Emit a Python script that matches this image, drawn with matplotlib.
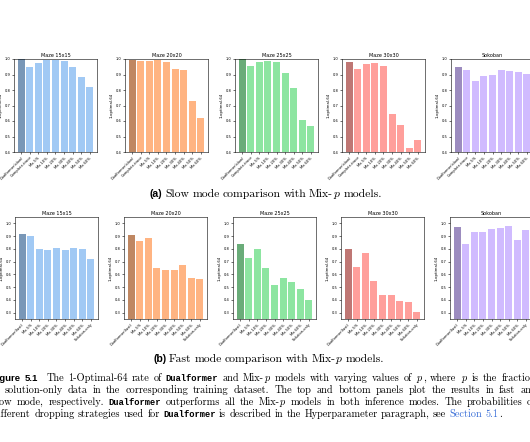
import numpy as np
import matplotlib
matplotlib.use("Agg")
from matplotlib import pyplot as plt

plt.rcParams['mathtext.fontset'] = 'cm'

####################################### data
titles = ['Maze 15x15', 'Maze 20x20', 'Maze 25x25', 'Maze 30x30', 'Sokoban']
mix_labels = ['Mix-5%', 'Mix-10%', 'Mix-20%', 'Mix-30%', 'Mix-40%', 'Mix-50%', 'Mix-60%']
slow_labels = ['Dualformer(slow)', 'Complete-trace'] + mix_labels
fast_labels = ['Dualformer(fast)'] + mix_labels + ['Solution-only']

slow_vals = [
    [1.00, 0.95, 0.976, 0.994, 0.994, 0.987, 0.946, 0.883, 0.819],
    [0.994, 0.987, 0.987, 0.994, 0.983, 0.937, 0.927, 0.728, 0.622],
    [1.00, 0.955, 0.98, 0.99, 0.98, 0.91, 0.81, 0.609, 0.568],
    [0.978, 0.937, 0.965, 0.976, 0.952, 0.643, 0.577, 0.428, 0.475],
    [0.95, 0.93, 0.857, 0.89, 0.894, 0.928, 0.924, 0.913, 0.905],
]
fast_vals = [
    [0.918, 0.90, 0.801, 0.79, 0.809, 0.79, 0.809, 0.801, 0.723],
    [0.908, 0.861, 0.887, 0.652, 0.631, 0.631, 0.67, 0.574, 0.561],
    [0.84, 0.73, 0.801, 0.652, 0.514, 0.574, 0.543, 0.483, 0.402],
    [0.801, 0.66, 0.77, 0.548, 0.436, 0.436, 0.391, 0.383, 0.305],
    [0.97, 0.84, 0.934, 0.934, 0.957, 0.965, 0.978, 0.866, 0.95],
]
colors = ['#a1c9f4', '#ffb482', '#8de5a1', '#ff9f9b', '#d0bbff']

####################################### layout (pixels)
W, H = 530, 442
fig = plt.figure(figsize=(W / 100, H / 100), dpi=100)
top_lefts = [14, 125, 235, 342, 451]
bot_lefts = [15, 124, 233, 341, 450]
pw = 83


def px_axes(left, top, w, h):
    return fig.add_axes([left / W, 1 - (top + h) / H, w / W, h / H])


def panel(ax, vals, labels, color, title, ylim, yticks):
    x = np.arange(len(vals))
    base = np.array(matplotlib.colors.to_rgb(color))
    cols = [tuple(base * 0.75)] + [color] * (len(vals) - 1)
    ax.bar(x, vals, color=cols, width=0.82)
    ax.set_ylim(*ylim)
    ax.set_yticks(yticks)
    ax.set_yticklabels(['%.1f' % v for v in yticks])
    ax.set_xticks(x)
    ax.set_xticklabels(labels, rotation=45, ha='right', rotation_mode='anchor')
    ax.tick_params(labelsize=2.6, length=1.5, width=0.4, pad=1)
    ax.set_title(title, fontsize=3.5, pad=1.5)
    ax.set_ylabel('1-optimal-64', fontsize=2.8, labelpad=1.5)
    for s in ax.spines.values():
        s.set_linewidth(0.4)


for i in range(5):
    ax = px_axes(top_lefts[i], 59, pw, 93)
    panel(ax, slow_vals[i], slow_labels, colors[i], titles[i], (0.4, 1.0),
          np.arange(0.4, 1.01, 0.1))
    ax = px_axes(bot_lefts[i], 217, pw, 102)
    panel(ax, fast_vals[i], fast_labels, colors[i], titles[i], (0.25, 1.05),
          np.arange(0.3, 1.01, 0.1))

####################################### captions
renderer = fig.canvas.get_renderer()
fs = 7.4
serif = dict(family='cmr10', size=fs)
bsans = dict(family='Liberation Sans', weight='bold', size=fs * 0.92)
tt = dict(family='Liberation Mono', weight='bold', size=6.3)
link = dict(family='cmr10', size=fs, color='#3a6fd8')
sub_serif = dict(family='cmr10', size=8.4)
sub_bold = dict(family='Liberation Sans', weight='bold', size=7.6)


def ink(s, style):
    t = fig.text(0, 0, s, **style)
    w = t.get_window_extent(renderer).width
    t.remove()
    return w


def adv(s, style):
    # advance width, side bearings included
    return ink('|' + s + '|', style) - ink('||', style)


def draw_line(x, y, segs, right=None):
    toks = []
    for s, style, gap in segs:
        for j, wd in enumerate(s.split(' ')):
            toks.append((wd, style, gap if j == 0 else 1))
    sp = adv(' ', segs[0][1]) if segs[0][1] is not bsans else adv(' ', serif)
    if right is not None:
        nat = sum(adv(wd, st) for wd, st, g in toks)
        sp = max(sp, (right - x - nat) / sum(g for wd, st, g in toks))
    for wd, style, gap in toks:
        x += gap * sp
        fig.text(x / W, 1 - y / H, wd, ha='left', va='baseline', **style)
        x += adv(wd, style)
    return x


P = '$p$'
draw_line(150, 197, [('(a)', sub_bold, 0), ('Slow mode comparison with Mix-', sub_serif, 1),
                     (P, sub_serif, 0), ('models.', sub_serif, 1)])
draw_line(153, 362, [('(b)', sub_bold, 0), ('Fast mode comparison with Mix-', sub_serif, 1),
                     (P, sub_serif, 0), ('models.', sub_serif, 1)])

space = adv(' ', serif)
lines = [
    (0, 'Fi', bsans, 536, [('Figure 5.1', bsans, 0), ('The 1-Optimal-64 rate of', serif, 2),
                           ('Dualformer', tt, 1), ('and Mix-', serif, 1), (P, serif, 0),
                           ('models with varying values of', serif, 1), (P, serif, 1),
                           (',', serif, 0), ('where', serif, 1), (P, serif, 1),
                           ('is the fraction', serif, 1)]),
    (2.7, 'of', serif, 537, [('of solution-only data in the corresponding training dataset. '
                              'The top and bottom panels plot the results in fast and', serif, 0)]),
    (0, 'sl', serif, 535, [('slow mode, respectively.', serif, 0), ('Dualformer', tt, 1),
                           ('outperforms all the Mix-', serif, 1), (P, serif, 0),
                           ('models in both inference modes. The probabilities of', serif, 1)]),
    (1.7, 'di', serif, None, [('different dropping strategies used for', serif, 0),
                              ('Dualformer', tt, 1),
                              ('is described in the Hyperparameter paragraph, see', serif, 1),
                              ('Section 5.1', link, 1), ('.', serif, 0)]),
]
for k, (vis_x, prefix, pstyle, right, segs) in enumerate(lines):
    pre = adv(prefix, pstyle)
    if prefix == 'of':
        pre += space
    draw_line(vis_x - pre, 381 + 12 * k, segs, right=right)

fig.savefig('out.png', dpi=100)
